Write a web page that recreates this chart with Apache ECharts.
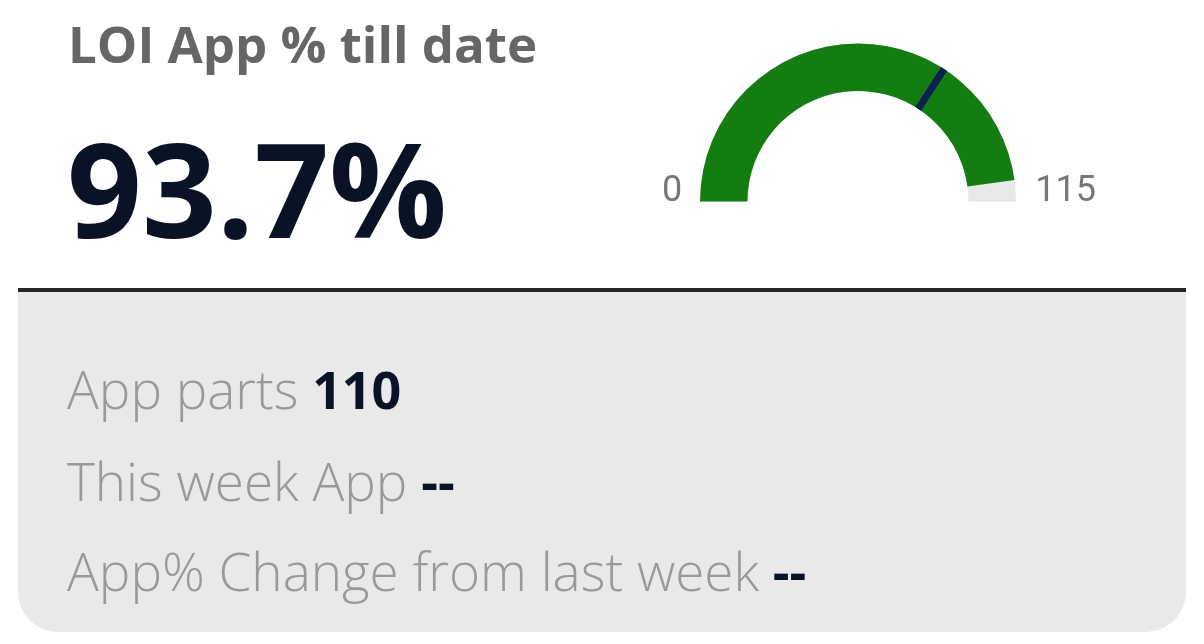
<!DOCTYPE html>
<html lang="en">
<head>
    <meta charset="UTF-8">
    <title>LOI App % till date</title>
    <script src="https://cdn.jsdelivr.net/npm/echarts@6/dist/echarts.min.js"></script>
    <style>
        html, body { margin: 0; padding: 0; background: #fff; }
        #card { width: 1204px; height: 644px; }
    </style>
</head>
<body>
<div id="card"></div>
<script>
    var cardTitle = 'LOI App % till date';
    var kpiText = '93.7%';
    var gaugeMin = 0;
    var gaugeMax = 115;
    var gaugeValue = [110];
    var targetValue = [78.6];
    var tickLabels = ['0', '115'];
    var detailLabels = ['App parts', 'This week App', 'App% Change from last week'];
    var detailValues = ['110', '--', '--'];

    var greyFont = '"Segoe UI Light", "Open Sans", sans-serif';
    var boldFont = '"Segoe UI", "Open Sans", sans-serif';
    var lineY = [394, 486, 576];

    var graphics = [
        // grey footer panel + dark rule
        { type: 'rect', shape: { x: 18, y: 290, width: 1168, height: 342, r: [0, 0, 40, 40] },
          style: { fill: '#e9e9e9' }, z: 0 },
        { type: 'rect', shape: { x: 18, y: 288, width: 1168, height: 4 },
          style: { fill: '#262626' }, z: 1 },
        { type: 'text', x: 68, y: 48,
          style: { text: cardTitle, fill: '#666666', font: 'bold 51px ' + boldFont, verticalAlign: 'middle' } },
        { type: 'text', x: 67, y: 201,
          style: { text: kpiText, fill: '#0a1226', font: 'bold 131px ' + boldFont, verticalAlign: 'middle' } }
    ];
    detailLabels.forEach(function (lab, i) {
        graphics.push({
            type: 'text', x: 67, y: lineY[i], z: 2,
            style: {
                text: '{a|' + lab + ' }{b|' + detailValues[i] + '}',
                verticalAlign: 'middle',
                rich: {
                    a: { fill: '#999999', fontFamily: greyFont, fontWeight: 300, fontSize: 53 },
                    b: { fill: '#0a1226', fontFamily: boldFont, fontWeight: 'bold', fontSize: 52 }
                }
            }
        });
    });

    var gaugeBase = {
        type: 'gauge',
        center: [858, 201.5],
        radius: 158,
        startAngle: 180,
        endAngle: 0,
        min: gaugeMin,
        max: gaugeMax,
        splitNumber: 1,
        axisTick: { show: false },
        splitLine: { show: false, length: 0, distance: 0 },
        detail: { show: false },
        title: { show: false },
        anchor: { show: false }
    };

    var tickLabel = {
        color: '#777777',
        fontFamily: 'Roboto',
        fontSize: 36,
        lineHeight: 20
    };

    var option = {
        animation: false,
        graphic: graphics,
        series: [
            Object.assign({}, gaugeBase, {
                z: 2,
                axisLine: { lineStyle: { width: 47.5, color: [[1, '#e8e8e8']] } },
                progress: { show: true, width: 47.5, itemStyle: { color: '#147d12' } },
                pointer: { show: false },
                axisLabel: Object.assign({}, tickLabel, {
                    distance: -38,
                    align: 'left',
                    formatter: function (v) { return v === gaugeMin ? tickLabels[0] + '\n ' : ''; }
                }),
                data: [{ value: gaugeValue[0] }]
            }),
            Object.assign({}, gaugeBase, {
                z: 5,
                axisLine: { show: false },
                progress: { show: false },
                pointer: {
                    show: true,
                    icon: 'rect',
                    width: 7,
                    length: 47.5,
                    offsetCenter: [0, -110.5],
                    itemStyle: { color: '#0b2150' }
                },
                axisLabel: Object.assign({}, tickLabel, {
                    distance: -80,
                    align: 'right',
                    formatter: function (v) { return v === gaugeMax ? tickLabels[1] + '\n ' : ''; }
                }),
                data: [{ value: targetValue[0] }]
            })
        ]
    };

    var myChart = echarts.init(document.getElementById('card'));
    myChart.setOption(option);
    window.onresize = function () { myChart.resize(); };
</script>
</body>
</html>
